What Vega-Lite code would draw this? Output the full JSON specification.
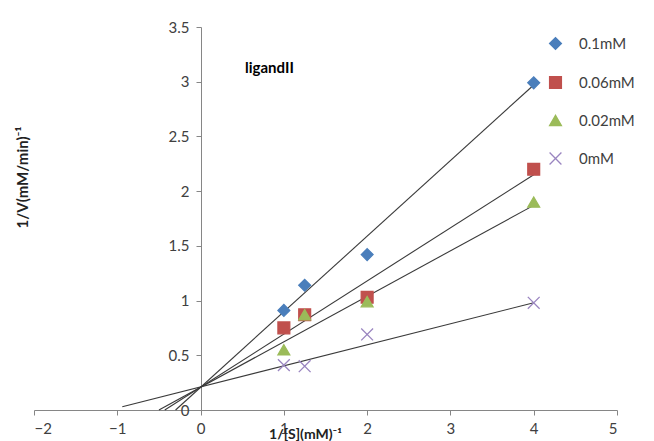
{
  "$schema": "https://vega.github.io/schema/vega-lite/v6.json",
  "width": 583,
  "height": 383,
  "autosize": "none",
  "padding": {"left": 34, "top": 27, "right": 37, "bottom": 31},
  "background": "white",
  "config": {"view": {"stroke": null}, "font": "Lato"},
  "title": {
    "text": "ligandII",
    "anchor": "start",
    "frame": "group",
    "orient": "top",
    "offset": 0,
    "dx": 211,
    "dy": 56,
    "fontSize": 15,
    "font": "Lato",
    "fontWeight": "bold",
    "color": "#000000"
  },
  "datasets": {
    "points": [
      {"x": 1, "y": 0.91, "series": "0.1mM"},
      {"x": 1.25, "y": 1.14, "series": "0.1mM"},
      {"x": 2, "y": 1.42, "series": "0.1mM"},
      {"x": 4, "y": 2.99, "series": "0.1mM"},
      {"x": 1, "y": 0.75, "series": "0.06mM"},
      {"x": 1.25, "y": 0.87, "series": "0.06mM"},
      {"x": 2, "y": 1.03, "series": "0.06mM"},
      {"x": 4, "y": 2.2, "series": "0.06mM"},
      {"x": 1, "y": 0.55, "series": "0.02mM"},
      {"x": 1.25, "y": 0.87, "series": "0.02mM"},
      {"x": 2, "y": 0.99, "series": "0.02mM"},
      {"x": 4, "y": 1.9, "series": "0.02mM"},
      {"x": 1, "y": 0.41, "series": "0mM"},
      {"x": 1.25, "y": 0.4, "series": "0mM"},
      {"x": 2, "y": 0.69, "series": "0mM"},
      {"x": 4, "y": 0.98, "series": "0mM"}
    ],
    "trend": [
      {"x": -0.3, "y": 0.0, "series": "0.1mM"},
      {"x": 4, "y": 2.97, "series": "0.1mM"},
      {"x": -0.43, "y": 0.0, "series": "0.06mM"},
      {"x": 4, "y": 2.15, "series": "0.06mM"},
      {"x": -0.5, "y": 0.0, "series": "0.02mM"},
      {"x": 4, "y": 1.87, "series": "0.02mM"},
      {"x": -0.94, "y": 0.03, "series": "0mM"},
      {"x": 4, "y": 0.98, "series": "0mM"}
    ]
  },
  "layer": [
    {
      "data": {"name": "trend"},
      "mark": {"type": "line", "color": "#3a3a3a", "strokeWidth": 1.1},
      "encoding": {
        "x": {
          "field": "x", "type": "quantitative",
          "scale": {"domain": [-2, 5], "nice": false, "zero": false},
          "axis": {
            "values": [-2, -1, 0, 1, 2, 3, 4, 5],
            "format": "~g",
            "grid": false,
            "domainColor": "#868686",
            "tickColor": "#868686",
            "tickSize": 5,
            "labelFontSize": 15,
            "labelColor": "#404040",
            "labelPadding": 6,
            "title": "1/[S](mM)⁻¹",
            "titleFontSize": 14,
            "titleFontWeight": "bold",
            "titleColor": "#222222",
            "titleX": 271,
            "titleY": 24,
            "titleBaseline": "middle"
          }
        },
        "y": {
          "field": "y", "type": "quantitative",
          "scale": {"domain": [0, 3.5], "nice": false},
          "axis": {
            "values": [0, 0.5, 1, 1.5, 2, 2.5, 3, 3.5],
            "format": "~g",
            "grid": false,
            "offset": -167,
            "domainColor": "#868686",
            "tickColor": "#868686",
            "tickSize": 5,
            "labelFontSize": 15,
            "labelColor": "#404040",
            "labelPadding": 7,
            "title": "1/V(mM/min)⁻¹",
            "titleFontSize": 15,
            "titleFontWeight": "bold",
            "titleColor": "#222222",
            "titleX": -179,
            "titleY": 150,
            "titleAngle": -90,
            "titleAlign": "center",
            "titleBaseline": "middle"
          }
        },
        "detail": {"field": "series"}
      }
    },
    {
      "data": {"name": "points"},
      "mark": {"type": "point", "filled": true, "size": 140, "strokeWidth": 1.3, "opacity": 1},
      "encoding": {
        "x": {"field": "x", "type": "quantitative"},
        "y": {"field": "y", "type": "quantitative"},
        "color": {
          "field": "series", "type": "nominal",
          "scale": {"domain": ["0.1mM", "0.06mM", "0.02mM", "0mM"], "range": ["#4A7EBB", "#C0504D", "#9BBB59", "#9A85C0"]},
          "legend": {
            "orient": "none",
            "legendX": 514,
            "legendY": 9,
            "title": null,
            "rowPadding": 20,
            "symbolSize": 140,
            "symbolStrokeWidth": 1.3,
            "labelFontSize": 15,
            "labelColor": "#404040",
            "labelOffset": 16
          }
        },
        "stroke": {
          "field": "series", "type": "nominal",
          "scale": {"domain": ["0.1mM", "0.06mM", "0.02mM", "0mM"], "range": ["#4A7EBB", "#C0504D", "#9BBB59", "#9A85C0"]}
        },
        "shape": {
          "field": "series", "type": "nominal",
          "scale": {"domain": ["0.1mM", "0.06mM", "0.02mM", "0mM"], "range": ["diamond", "square", "triangle-up", "M-1,-1L1,1M1,-1L-1,1"]}
        }
      }
    }
  ]
}
